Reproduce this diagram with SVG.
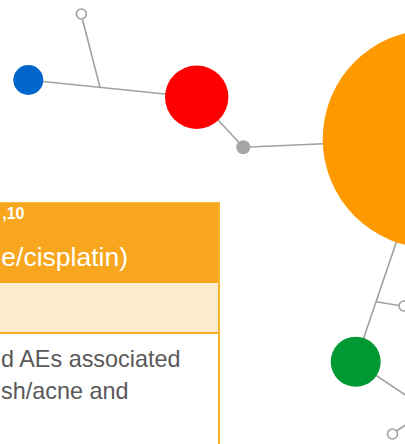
<svg xmlns="http://www.w3.org/2000/svg" width="405" height="444" viewBox="0 0 405 444">
<style>
.ln{stroke:#9FA0A4;stroke-width:1.6;fill:none}
.hollow{fill:#fff;stroke:#9FA0A4;stroke-width:1.6}
.hdr{font-family:"Liberation Sans",Arial,sans-serif;fill:#fff}
.body{font-family:"Liberation Sans",Arial,sans-serif;fill:#595959;font-size:23.4px}
</style>
<rect width="405" height="444" fill="#fff"/>
<g id="connectors">
<line class="ln" x1="82.5" y1="19.5" x2="100" y2="87.4"/>
<line class="ln" x1="28" y1="80" x2="197" y2="97.3"/>
<line class="ln" x1="197" y1="97.3" x2="243.3" y2="147.3"/>
<line class="ln" x1="243.3" y1="147.3" x2="432" y2="139"/>
<line class="ln" x1="355.6" y1="361.7" x2="431.5" y2="139"/>
<line class="ln" x1="376" y1="301.7" x2="399" y2="305.5"/>
<line class="ln" x1="355.6" y1="361.7" x2="410" y2="398"/>
<line class="ln" x1="396.5" y1="431" x2="410" y2="422"/>
</g>
<g id="node-hollow-top"><circle class="hollow" cx="81.3" cy="14" r="5"/></g>
<g id="node-blue"><circle cx="28.3" cy="80" r="15" fill="#0066CC"/></g>
<g id="node-red"><circle cx="196.7" cy="97.2" r="31.7" fill="#FF0000"/></g>
<g id="node-gray"><circle cx="243.3" cy="147.3" r="7" fill="#A6A6A8"/></g>
<g id="node-orange"><circle cx="431.9" cy="139" r="109.2" fill="#FF9900"/></g>
<g id="node-hollow-right"><circle class="hollow" cx="404" cy="306" r="5"/></g>
<g id="node-green"><circle cx="355.7" cy="361.7" r="25" fill="#009933"/></g>
<g id="node-hollow-bottom"><circle class="hollow" cx="392.5" cy="434" r="5"/></g>
<g id="table">
<rect x="-5" y="202" width="224" height="81" fill="#F7A61E"/>
<line x1="-5" y1="202.5" x2="219" y2="202.5" stroke="#FBBB3A" stroke-width="1"/>
<rect x="-5" y="283" width="224" height="49" fill="#FCEBCC"/>
<rect x="-5" y="332" width="224" height="2" fill="#F9AE28"/>
<rect x="218" y="202" width="2" height="250" fill="#F9B42C"/>
<text class="hdr" x="24.5" y="219" font-size="16" font-weight="bold" text-anchor="end">,10</text>
<text class="hdr" x="128" y="266" font-size="26.5" text-anchor="end">e/cisplatin)</text>
<text class="body" x="180.5" y="367" text-anchor="end">d AEs associated</text>
<text class="body" x="1" y="399">sh/acne and</text>
</g>
</svg>
